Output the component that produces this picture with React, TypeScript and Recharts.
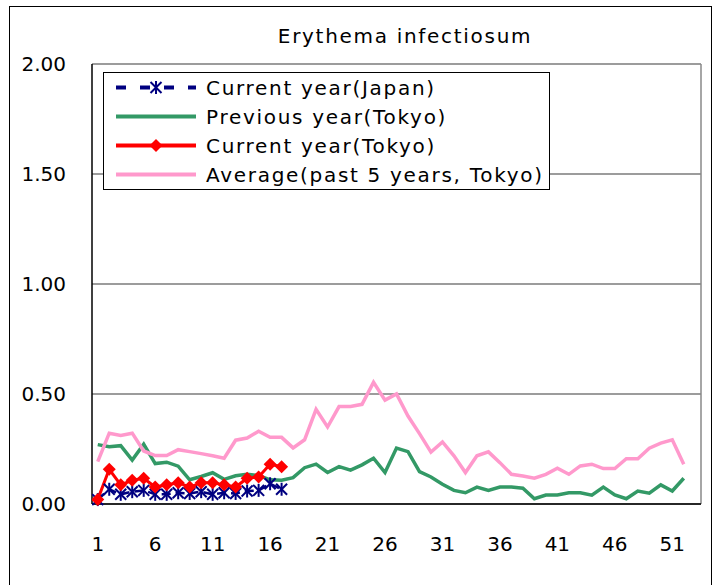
import { LineChart, Line, XAxis, YAxis, CartesianGrid, Legend, ReferenceLine } from 'recharts';

const FONT = '"DejaVu Sans", sans-serif';

// weeks of the year (category axis)
const weeks = [
    1, 2, 3, 4, 5, 6, 7, 8, 9, 10, 11, 12, 13, 14, 15, 16, 17, 18, 19, 20, 21, 22, 23, 24, 25, 26,
    27, 28, 29, 30, 31, 32, 33, 34, 35, 36, 37, 38, 39, 40, 41, 42, 43, 44, 45, 46, 47, 48, 49, 50, 51, 52, 53,
];

const japanCurrent = [
    0.02, 0.067, 0.044, 0.056, 0.062, 0.044, 0.044, 0.051, 0.048, 0.056, 0.044, 0.051, 0.048, 0.059, 0.062, 0.092, 0.067,
];

const tokyoPrevious = [
    0.27, 0.26, 0.265, 0.2, 0.272, 0.184, 0.19, 0.172, 0.11, 0.125, 0.142, 0.112, 0.128, 0.135, 0.13, 0.11, 0.108,
    0.12, 0.165, 0.181, 0.143, 0.17, 0.154, 0.178, 0.208, 0.143, 0.254, 0.238, 0.147, 0.123, 0.09, 0.062, 0.051,
    0.077, 0.062, 0.077, 0.077, 0.072, 0.024, 0.041, 0.041, 0.051, 0.051, 0.04, 0.077, 0.041, 0.024, 0.059, 0.049,
    0.087, 0.059, 0.117,
];

const tokyoCurrent = [
    0.021, 0.158, 0.087, 0.108, 0.117, 0.077, 0.087, 0.097, 0.077, 0.097, 0.097, 0.087, 0.077, 0.117, 0.123, 0.181, 0.169,
];

const tokyoAverage = [
    0.193, 0.322, 0.312, 0.322, 0.241, 0.22, 0.22, 0.247, 0.238, 0.229, 0.219, 0.208, 0.29, 0.3, 0.331, 0.303, 0.303,
    0.255, 0.292, 0.43, 0.35, 0.443, 0.443, 0.453, 0.553, 0.472, 0.5, 0.4, 0.32, 0.236, 0.282, 0.219, 0.143,
    0.219, 0.237, 0.188, 0.135, 0.127, 0.117, 0.135, 0.163, 0.135, 0.173, 0.181, 0.161, 0.161, 0.206, 0.206, 0.254,
    0.277, 0.292, 0.181,
];

const xTickLabels = [1, 6, 11, 16, 21, 26, 31, 36, 41, 46, 51];
const yTicks = [0, 0.5, 1, 1.5, 2];
// small tick marks sit on the boundaries between weeks
const xTickMarks = xTickLabels.slice(1).map((w) => w - 0.5);

// legend order as in the original
const legendOrder = ['japan', 'previous', 'current', 'average'];

const data = weeks.map((week, i) => ({
    week,
    japan: japanCurrent[i] ?? null,
    previous: tokyoPrevious[i] ?? null,
    current: tokyoCurrent[i] ?? null,
    average: tokyoAverage[i] ?? null,
}));

const Diamond = (props: any) => {
    const { cx, cy, value } = props;
    if (value == null || cx == null) return <g />;
    const r = 6.5;
    return <polygon points={`${cx},${cy - r} ${cx + r},${cy} ${cx},${cy + r} ${cx - r},${cy}`} fill="#FF0000" />;
};

const Asterisk = (props: any) => {
    const { cx, cy, value } = props;
    if (value == null || cx == null) return <g />;
    const r = 5.5;
    return (
        <g stroke="#000080" strokeWidth={2}>
            <line x1={cx - r} y1={cy - r} x2={cx + r} y2={cy + r} />
            <line x1={cx - r} y1={cy + r} x2={cx + r} y2={cy - r} />
            <line x1={cx} y1={cy - r - 1} x2={cx} y2={cy + r + 1} />
        </g>
    );
};

const legendStyles: Record<string, { dash?: string; marker?: 'star' | 'diamond' }> = {
    japan: { dash: '10 14', marker: 'star' },
    previous: {},
    current: { marker: 'diamond' },
    average: {},
};

const LegendBox = ({ payload }: any) => {
    const items = legendOrder
        .map((key) => payload?.find((p: any) => p.dataKey === key))
        .filter(Boolean);
    return (
        <div
            style={{
                border: '1px solid #000',
                background: '#fff',
                width: 447,
                height: 118,
                boxSizing: 'border-box',
                paddingTop: 0,
                fontFamily: FONT,
                fontSize: 20,
                letterSpacing: 1.7,
                color: '#000',
            }}
        >
            {items.map((entry: any) => {
                const st = legendStyles[entry.dataKey] || {};
                return (
                    <div key={entry.dataKey} style={{ display: 'flex', alignItems: 'center', height: 29 }}>
                        <svg width={102} height={29} style={{ flexShrink: 0 }}>
                            <line x1={12} y1={14.5} x2={92} y2={14.5} stroke={entry.color} strokeWidth={4} strokeDasharray={st.dash} />
                            {st.marker === 'star' && <Asterisk cx={52} cy={14.5} value={1} />}
                            {st.marker === 'diamond' && <Diamond cx={52} cy={14.5} value={1} />}
                        </svg>
                        <span style={{ whiteSpace: 'nowrap' }}>{entry.value}</span>
                    </div>
                );
            })}
        </div>
    );
};

export default function App() {
    return (
        <div style={{ position: 'absolute', left: 0, top: 0, width: 718, height: 585, overflow: 'hidden', background: '#fff' }}>
            <div
                style={{
                    position: 'absolute',
                    left: 9,
                    top: 6,
                    width: 703,
                    height: 620,
                    border: '1.5px solid #000',
                    boxSizing: 'border-box',
                }}
            />
            <div
                style={{
                    position: 'absolute',
                    left: 0,
                    width: 810,
                    top: 24,
                    textAlign: 'center',
                    fontFamily: FONT,
                    fontSize: 20,
                    letterSpacing: 1.7,
                    color: '#000',
                }}
            >
                Erythema infectiosum
            </div>
            <div style={{ position: 'absolute', left: 0, top: 0 }}>
                <LineChart width={718} height={585} data={data} margin={{ top: 64, right: 17, bottom: 32, left: 10 }}>
                    <CartesianGrid vertical={false} stroke="#3a3a3a" strokeWidth={1.2} />
                    <XAxis
                        xAxisId="marks"
                        dataKey="week"
                        type="number"
                        domain={[0.5, 53.5]}
                        allowDataOverflow
                        ticks={xTickMarks}
                        tick={false}
                        mirror
                        tickSize={7}
                        height={1}
                        axisLine={{ stroke: '#000', strokeWidth: 1.5 }}
                        tickLine={{ stroke: '#000', strokeWidth: 1.2 }}
                    />
                    <XAxis
                        xAxisId="main"
                        dataKey="week"
                        type="number"
                        domain={[0.5, 53.5]}
                        allowDataOverflow
                        ticks={xTickLabels}
                        interval={0}
                        height={49}
                        axisLine={false}
                        tickLine={false}
                        tickSize={0}
                        tickMargin={33}
                        tick={{ fill: '#000', fontSize: 20, fontFamily: FONT }}
                    />
                    <YAxis
                        domain={[0, 2]}
                        ticks={yTicks}
                        width={82}
                        tickFormatter={(v: number) => v.toFixed(2)}
                        axisLine={{ stroke: '#000', strokeWidth: 1.5 }}
                        tickLine={false}
                        tickSize={0}
                        tickMargin={26}
                        tick={{ fill: '#000', fontSize: 20, fontFamily: FONT }}
                    />
                    <ReferenceLine xAxisId="main" x={53.5} stroke="#888" strokeWidth={1.5} />
                    <Legend
                        layout="horizontal"
                        verticalAlign="middle"
                        align="center"
                        wrapperStyle={{ position: 'absolute', left: 103, top: 72, width: 447, height: 118 }}
                        content={<LegendBox />}
                    />
                    <Line
                        xAxisId="main"
                        dataKey="japan"
                        name="Current year(Japan)"
                        stroke="#000080"
                        strokeWidth={2.5}
                        strokeDasharray="9 5"
                        dot={<Asterisk />}
                        isAnimationActive={false}
                    />
                    <Line
                        xAxisId="main"
                        dataKey="previous"
                        name="Previous year(Tokyo)"
                        stroke="#339966"
                        strokeWidth={3.5}
                        dot={false}
                        isAnimationActive={false}
                    />
                    <Line
                        xAxisId="main"
                        dataKey="current"
                        name="Current year(Tokyo)"
                        stroke="#FF0000"
                        strokeWidth={3}
                        dot={<Diamond />}
                        isAnimationActive={false}
                    />
                    <Line
                        xAxisId="main"
                        dataKey="average"
                        name="Average(past 5 years, Tokyo)"
                        stroke="#FF99CC"
                        strokeWidth={3.5}
                        dot={false}
                        isAnimationActive={false}
                    />
                </LineChart>
            </div>
        </div>
    );
}
